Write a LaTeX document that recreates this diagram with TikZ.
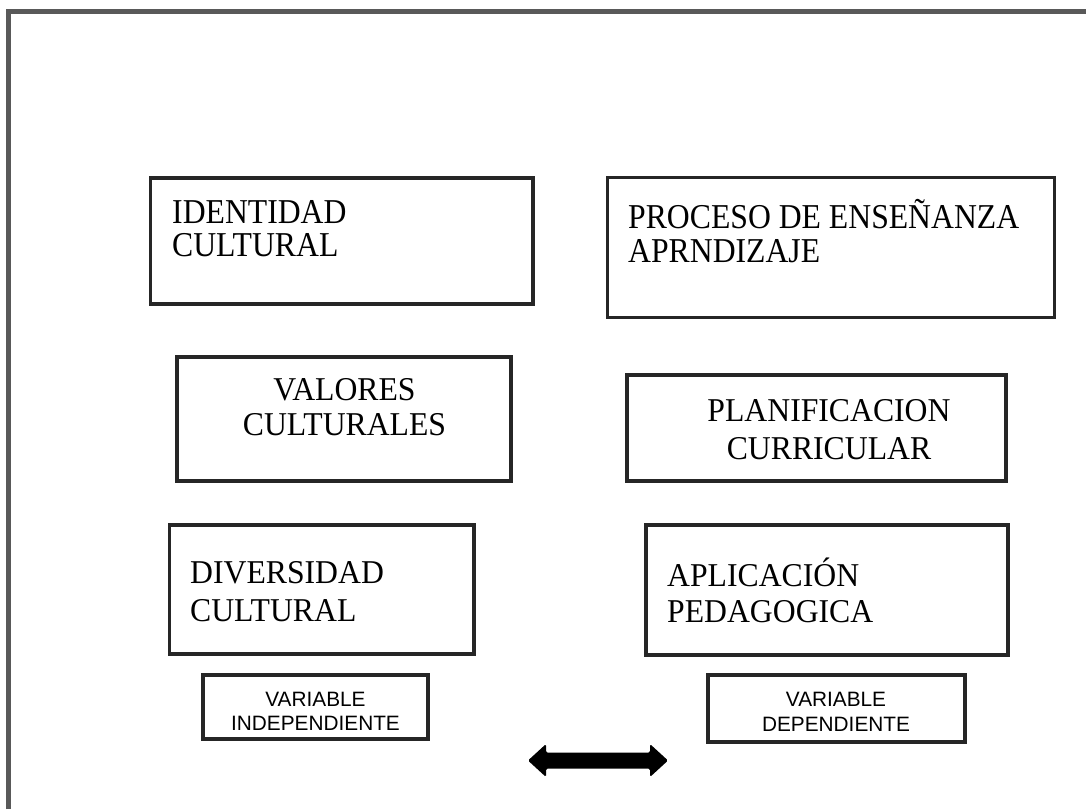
\documentclass[tikz,border=0pt]{standalone}
\usepackage{fontspec}
\setmainfont{Liberation Serif}
\newfontfamily\arialfont{Liberation Sans}
\definecolor{framegray}{HTML}{595959}
\definecolor{boxline}{HTML}{262626}
\begin{document}
\begin{tikzpicture}[x=1pt,y=-1pt,
  box/.style={draw=boxline,line width=3.8pt,rectangle,inner sep=0pt,outer sep=0pt,fill=none},
  big/.style={inner sep=0pt,font=\fontsize{31.7}{34}\selectfont},
  small/.style={inner sep=0pt,font=\arialfont\fontsize{20.8}{23}\selectfont}]
\useasboundingbox (0,0) rectangle (1086,809);
\fill[white] (0,0) rectangle (1086,809);
% outer frame
\coordinate (fbl) at (8.5,809);
\coordinate (ftl) at (8.5,11.5);
\coordinate (ftr) at (1086,11.5);
\draw[framegray,line width=5pt] (fbl) -- (ftl) -- (ftr);
% boxes
\node[box,minimum width=382.5pt,minimum height=126pt] (b1) at (341.75,241) {};
\node[box,minimum width=447pt,minimum height=140pt] (b2) at (831,247.5) {};
\node[box,minimum width=334pt,minimum height=124pt] (b3) at (344,419) {};
\node[box,minimum width=379pt,minimum height=106pt] (b4) at (816.5,428) {};
\node[box,minimum width=304.5pt,minimum height=129pt] (b5) at (321.75,589.5) {};
\node[box,minimum width=362pt,minimum height=130pt] (b6) at (827,590) {};
\node[box,minimum width=225pt,minimum height=64pt] (b7) at (315.5,707) {};
\node[box,minimum width=257pt,minimum height=67pt] (b8) at (836.5,708.5) {};
% texts
\node[big,anchor=base west] (t1a) at (172,223) {\scalebox{1}[1.1]{IDENTIDAD}};
\node[big,anchor=base west] (t1b) at (172,256) {\scalebox{1}[1.1]{CULTURAL}};
\node[big,anchor=base west] (t2a) at (628,228) {\scalebox{1}[1.1]{PROCESO DE ENSEÑANZA}};
\node[big,anchor=base west] (t2b) at (628,262) {\scalebox{1}[1.1]{APRNDIZAJE}};
\node[big,anchor=base] (t3a) at (344.5,400) {\scalebox{1}[1.05]{VALORES}};
\node[big,anchor=base] (t3b) at (344.5,435) {\scalebox{1}[1.05]{CULTURALES}};
\node[big,anchor=base] (t4a) at (829,421) {\scalebox{1}[1.05]{PLANIFICACION}};
\node[big,anchor=base] (t4b) at (829,459) {\scalebox{1}[1.05]{CURRICULAR}};
\node[big,anchor=base west] (t5a) at (190,583) {\scalebox{1}[1.05]{DIVERSIDAD}};
\node[big,anchor=base west] (t5b) at (190,621) {\scalebox{1}[1.05]{CULTURAL}};
\node[big,anchor=base west] (t6a) at (667,586) {\scalebox{1}[1.05]{APLICACIÓN}};
\node[big,anchor=base west] (t6b) at (667,622) {\scalebox{1}[1.05]{PEDAGOGICA}};
\node[small,anchor=base] (t7a) at (315.5,706) {VARIABLE};
\node[small,anchor=base] (t7b) at (315.5,730) {INDEPENDIENTE};
\node[small,anchor=base] (t8a) at (836,706) {VARIABLE};
\node[small,anchor=base] (t8b) at (836,731) {DEPENDIENTE};
% double arrow
\fill[black,rounded corners=1.5pt]
  (528,760.5) -- (546,744) -- (546,752.5) -- (650,752.5) -- (650,744)
  -- (668,760.5) -- (650,777) -- (650,768.5) -- (546,768.5) -- (546,777) -- cycle;
\end{tikzpicture}
\end{document}
